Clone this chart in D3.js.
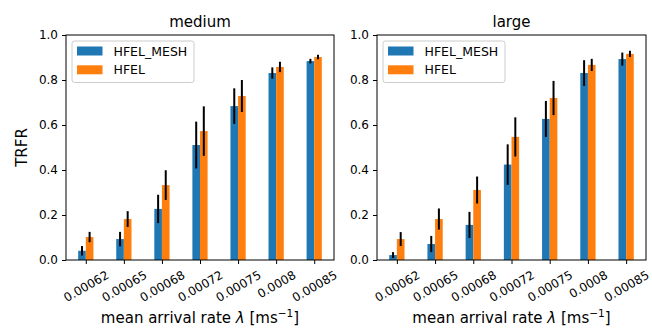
<!DOCTYPE html>
<html>
<head>
<meta charset="utf-8">
<script src="https://cdn.jsdelivr.net/npm/d3@7"></script>
<style>
  body { margin: 0; background: #fff; }
  svg { font-family: "DejaVu Sans", sans-serif; }
</style>
</head>
<body>
<div id="chart"></div>
<script>
const FRAME_WIDTH = 652;
const FRAME_HEIGHT = 329;

// data
const categories = ["0.00062", "0.00065", "0.00068", "0.00072", "0.00075", "0.0008", "0.00085"];
const seriesNames = ["HFEL_MESH", "HFEL"];
const yTicks = [0, 0.2, 0.4, 0.6, 0.8, 1.0];

const meshMedium    = [0.041, 0.093, 0.227, 0.511, 0.684, 0.831, 0.884];
const meshMediumErr = [0.021, 0.032, 0.063, 0.104, 0.079, 0.025, 0.010];
const hfelMedium    = [0.102, 0.182, 0.333, 0.573, 0.729, 0.858, 0.902];
const hfelMediumErr = [0.023, 0.035, 0.066, 0.110, 0.071, 0.023, 0.010];

const meshLarge    = [0.022, 0.071, 0.156, 0.424, 0.627, 0.831, 0.893];
const meshLargeErr = [0.013, 0.036, 0.058, 0.090, 0.080, 0.057, 0.029];
const hfelLarge    = [0.093, 0.182, 0.311, 0.547, 0.720, 0.867, 0.916];
const hfelLargeErr = [0.031, 0.047, 0.060, 0.087, 0.076, 0.027, 0.014];

const COLORS = ["#1f77b4", "#ff7f0e"];
const BAR_W = 0.2;

const PANELS = [
  {title: "medium", left: 66, right: 334, series: [[meshMedium, meshMediumErr], [hfelMedium, hfelMediumErr]], ylabel: true},
  {title: "large", left: 377, right: 646, series: [[meshLarge, meshLargeErr], [hfelLarge, hfelLargeErr]], ylabel: false}
];
const TOP = 35;
const BOTTOM = 260;

const SVG = d3.select("#chart")
  .append("svg")
    .attr("width", FRAME_WIDTH)
    .attr("height", FRAME_HEIGHT);

const Y_SCALE = d3.scaleLinear().domain([0, 1]).range([BOTTOM, TOP]);

PANELS.forEach((p) => {
  const X_SCALE = d3.scaleLinear()
    .domain([-0.52, categories.length - 1 + 0.52])
    .range([p.left, p.right]);
  const pxPerUnit = X_SCALE(1) - X_SCALE(0);
  const g = SVG.append("g");

  // bars + error bars
  p.series.forEach((s, si) => {
    const vals = s[0], errs = s[1];
    const off = si == 0 ? -BAR_W / 2 : BAR_W / 2;
    g.selectAll(".bar" + si)
      .data(vals)
      .enter()
      .append("rect")
        .attr("x", (d, i) => X_SCALE(i + off) - BAR_W * pxPerUnit / 2)
        .attr("y", (d) => Y_SCALE(d))
        .attr("width", BAR_W * pxPerUnit)
        .attr("height", (d) => BOTTOM - Y_SCALE(d))
        .attr("fill", COLORS[si]);
    g.selectAll(".err" + si)
      .data(vals)
      .enter()
      .append("line")
        .attr("x1", (d, i) => X_SCALE(i + off))
        .attr("x2", (d, i) => X_SCALE(i + off))
        .attr("y1", (d, i) => Y_SCALE(d - errs[i]))
        .attr("y2", (d, i) => Y_SCALE(d + errs[i]))
        .attr("stroke", "#000")
        .attr("stroke-width", 2);
  });

  // frame
  g.append("rect")
    .attr("x", p.left).attr("y", TOP)
    .attr("width", p.right - p.left).attr("height", BOTTOM - TOP)
    .attr("fill", "none").attr("stroke", "#000").attr("stroke-width", 1);

  // y axis
  const yAxis = g.append("g")
    .attr("transform", "translate(" + p.left + ",0)")
    .call(d3.axisLeft(Y_SCALE).tickValues(yTicks).tickFormat(d3.format(".1f")).tickSizeOuter(0).tickSize(4).tickPadding(4));
  yAxis.select(".domain").remove();
  yAxis.selectAll("text").attr("font-size", "12px").attr("font-family", "DejaVu Sans").attr("fill", "#000");

  // x axis
  const xAxis = g.append("g")
    .attr("transform", "translate(0," + BOTTOM + ")")
    .call(d3.axisBottom(X_SCALE).tickValues(d3.range(categories.length)).tickFormat((i) => categories[i]).tickSizeOuter(0).tickSize(4));
  xAxis.select(".domain").remove();
  xAxis.selectAll("text")
    .attr("font-size", "12px")
    .attr("font-family", "DejaVu Sans")
    .attr("fill", "#000")
    .attr("dy", null)
    .attr("y", null)
    .attr("text-anchor", "middle")
    .attr("dominant-baseline", "central")
    .attr("transform", function() {
      const w = this.getComputedTextLength();
      const h = 14;
      const bh = w * Math.sin(Math.PI / 6) + h * Math.cos(Math.PI / 6);
      return "translate(0," + (8 + bh / 2) + ") rotate(-30)";
    });

  // title
  g.append("text")
    .attr("x", (p.left + p.right) / 2)
    .attr("y", 27)
    .attr("text-anchor", "middle")
    .attr("font-size", "15px")
    .text(p.title);

  // x label
  const xl = g.append("text")
    .attr("x", (p.left + p.right) / 2)
    .attr("y", 323)
    .attr("text-anchor", "middle")
    .attr("font-size", "15px");
  xl.append("tspan").text("mean arrival rate ");
  xl.append("tspan").attr("font-style", "italic").text("λ");
  xl.append("tspan").text(" [ms");
  xl.append("tspan").attr("font-size", "10.5px").attr("dy", -6.5).text("−1");
  xl.append("tspan").attr("dy", 6.5).text("]");

  if (p.ylabel) {
    g.append("text")
      .attr("transform", "translate(27," + ((TOP + BOTTOM) / 2) + ") rotate(-90)")
      .attr("text-anchor", "middle")
      .attr("font-size", "15px")
      .text("TRFR");
  }

  // legend
  const lg = g.append("g").attr("transform", "translate(" + (p.left + 6) + "," + (TOP + 6) + ")");
  lg.append("rect")
    .attr("width", 122).attr("height", 41.5)
    .attr("rx", 2.5)
    .attr("fill", "#fff").attr("fill-opacity", 0.8)
    .attr("stroke", "#cccccc").attr("stroke-width", 1);
  seriesNames.forEach((name, si) => {
    lg.append("rect")
      .attr("x", 5).attr("y", 5.5 + si * 18.8)
      .attr("width", 25.5).attr("height", 9)
      .attr("fill", COLORS[si]);
    lg.append("text")
      .attr("x", 41.5).attr("y", 10 + si * 18.8)
      .attr("dominant-baseline", "central")
      .attr("font-size", "12.5px")
      .text(name);
  });
});
</script>
</body>
</html>
